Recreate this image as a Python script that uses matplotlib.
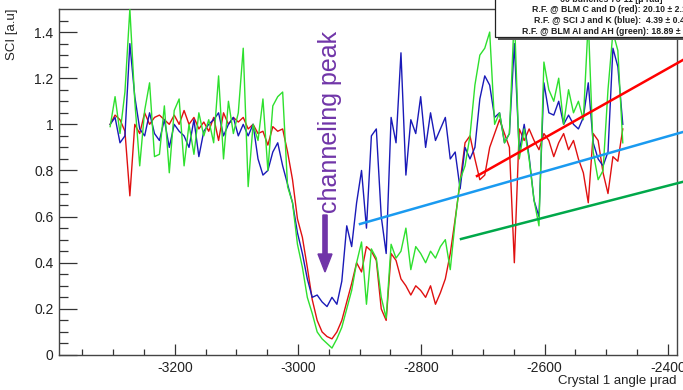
import numpy as np
import matplotlib
matplotlib.use("Agg")
import matplotlib.pyplot as plt
from matplotlib.lines import Line2D
from matplotlib.patches import Rectangle, FancyArrow

plt.rcParams['font.family'] = ['Liberation Sans', 'DejaVu Sans']
plt.rcParams['axes.unicode_minus'] = False

# ---- data (crystal angle scan, step 8 urad) ----
angle_start = -3305
angle_step = 8
red_vals = [1.0, 1.04, 1.02, 0.97, 0.69, 1.0, 0.96, 1.05, 1.0, 1.03,
            1.04, 1.02, 1.0, 1.04, 1.0, 1.06, 1.0, 1.03, 0.98, 1.01,
            0.97, 1.03, 0.93, 1.05, 1.0, 1.03, 1.01, 1.03, 0.98, 1.0,
            0.96, 0.97, 0.91, 0.99, 0.97, 0.98, 0.88, 0.76, 0.59, 0.51,
            0.38, 0.24, 0.15, 0.10, 0.08, 0.07, 0.10, 0.15, 0.23, 0.31,
            0.40, 0.36, 0.47, 0.45, 0.41, 0.20, 0.15, 0.44, 0.41, 0.33,
            0.30, 0.26, 0.30, 0.28, 0.25, 0.30, 0.22, 0.27, 0.33, 0.44,
            0.59, 0.75, 0.92, 0.95, 0.85, 0.76, 0.78, 0.90, 0.96, 1.02,
            0.96, 0.90, 0.40, 0.98, 0.93, 0.98, 0.93, 0.89, 0.96, 0.93,
            0.86, 0.92, 0.96, 0.89, 0.93, 0.85, 0.79, 0.66, 0.96, 0.93,
            0.79, 0.70, 0.86, 0.84, 0.98]
blue_vals = [1.0, 1.03, 0.92, 0.95, 1.35, 1.12, 0.98, 0.95, 1.05, 0.96,
             0.93, 1.02, 0.90, 1.0, 0.97, 0.95, 0.90, 1.02, 0.86, 0.97,
             1.0, 1.02, 1.05, 0.95, 1.0, 1.03, 0.95, 1.0, 0.95, 1.0,
             0.85, 0.78, 0.80, 0.88, 0.92, 0.82, 0.74, 0.66, 0.53, 0.44,
             0.33, 0.25, 0.26, 0.23, 0.21, 0.25, 0.22, 0.32, 0.56, 0.47,
             0.66, 0.80, 0.55, 0.95, 0.98, 0.60, 0.44, 1.03, 0.92, 1.31,
             0.78, 1.02, 0.96, 1.12, 0.90, 1.05, 0.93, 0.98, 1.03, 0.85,
             0.88, 0.72, 0.90, 0.85, 0.90, 1.11, 1.21, 1.17, 1.03, 1.05,
             0.92, 0.96, 1.35, 0.88, 1.0, 0.86, 0.67, 0.60, 1.18, 1.05,
             1.04, 1.10, 1.0, 1.04, 1.0, 0.98, 1.03, 1.18, 0.92, 0.85,
             0.82, 0.88, 1.33, 1.25, 1.0]
green_vals = [0.99, 1.12, 0.96, 1.14, 1.50, 1.10, 0.82, 1.06, 1.18, 0.86,
              0.87, 1.08, 0.79, 1.06, 1.11, 0.82, 1.0, 0.87, 1.05, 0.95,
              1.02, 0.92, 1.21, 0.85, 1.10, 0.96, 1.05, 1.33, 0.73, 1.0,
              0.93, 1.11, 0.80, 1.08, 1.12, 1.14, 0.73, 0.66, 0.48, 0.38,
              0.25, 0.18, 0.10, 0.07, 0.05, 0.03, 0.07, 0.12, 0.20, 0.28,
              0.40, 0.49, 0.22, 0.46, 0.42, 0.25, 0.16, 0.48, 0.42, 0.45,
              0.55, 0.37, 0.47, 0.44, 0.40, 0.45, 0.42, 0.47, 0.50, 0.37,
              0.58, 0.76, 0.82, 0.95, 1.17, 1.30, 1.33, 1.40, 1.0, 1.05,
              0.92, 0.96, 1.48, 0.85, 0.98, 0.85, 0.67, 0.56, 1.27, 1.15,
              1.10, 1.20, 1.0, 1.15, 1.05, 1.10, 1.02, 1.45, 0.88, 0.76,
              0.80, 1.15, 1.40, 1.32, 0.92]
angles = angle_start + angle_step * np.arange(len(red_vals))

xticks = [-3200, -3000, -2800, -2600, -2400]
yticks = [0, 0.2, 0.4, 0.6, 0.8, 1.0, 1.2, 1.4]
ytick_labels = ['0', '0.2', '0.4', '0.6', '0.8', '1', '1.2', '1.4']
legend_lines = ["60 bunches 76-11 [\u03bc rad]",
                "R.F. @ BLM C and D (red): 20.10 \u00b1 2.16",
                "R.F. @ SCI J and K (blue):  4.39 \u00b1 0.46",
                "R.F. @ BLM AI and AH (green): 18.89 \u00b1 3.12"]

W, H = 683, 390
fig = plt.figure(figsize=(W / 100, H / 100), dpi=100)
ax = fig.add_axes([59 / W, 1 - 355 / H, (677 - 59) / W, (355 - 9) / H])

ax.plot(angles, red_vals, color='#e01010', lw=1.0, zorder=2)
ax.plot(angles, blue_vals, color='#1a1ab8', lw=1.0, zorder=3)
ax.plot(angles, green_vals, color='#2ee02e', lw=1.0, zorder=4)

ax.set_xlim(-3388, -2385)
ax.set_ylim(0, 1.5)
ax.set_xticks(xticks)
ax.set_xticks(np.arange(-3350, -2385, 50), minor=True)
ax.set_yticks(yticks)
ax.set_yticklabels(ytick_labels)
ax.set_yticks(np.arange(0, 1.5, 0.05), minor=True)
ax.tick_params(axis='both', which='both', direction='in', colors='#333333',
               labelcolor='#222222', labelsize=10, width=0.9)
ax.tick_params(axis='y', which='major', length=13, pad=4)
ax.tick_params(axis='y', which='minor', length=6.5)
ax.tick_params(axis='x', which='major', length=8, pad=4)
ax.tick_params(axis='x', which='minor', length=4)
for s in ax.spines.values():
    s.set_color('#444444')
    s.set_linewidth(1.0)

ax.set_ylabel('SCI [a.u]', loc='top', fontsize=9.5, color='#222222')
ax.yaxis.set_label_coords(-0.066, 1.0)
ax.set_xlabel('Crystal 1 angle \u03bcrad', loc='right', fontsize=9.5, color='#222222')
ax.xaxis.set_label_coords(1.0, -0.058)

purple = '#7035a8'
fig.text(330 / W, 1 - 122 / H, 'channeling peak', rotation=90, fontsize=18,
         color=purple, ha='center', va='center')
fig.add_artist(FancyArrow(325 / W, 1 - 215 / H, 0, -(57 / H), width=4 / H * 0.6,
                          head_width=14 / W, head_length=18 / H,
                          length_includes_head=True, color=purple,
                          transform=fig.transFigure))

# annotation lines
for (x0, y0, x1, y1, c) in [(477, 176, 690, 56, '#ff0000'),
                            (360, 224, 690, 130, '#1a9af0'),
                            (461, 239, 690, 180, '#00a84a')]:
    fig.add_artist(Line2D([x0 / W, x1 / W], [1 - y0 / H, 1 - y1 / H],
                          color=c, lw=1.8, transform=fig.transFigure))

# stats box
fig.add_artist(Rectangle((498 / W, 1 - 40 / H), 200 / W, 50 / H,
                         facecolor='#555555', edgecolor='none',
                         transform=fig.transFigure, zorder=5))
fig.add_artist(Rectangle((495 / W, 1 - 37 / H), 200 / W, 50 / H,
                         facecolor='white', edgecolor='#222222', lw=0.9,
                         transform=fig.transFigure, zorder=6))
text_pos = [(560, 0), (532, 10), (534, 20.5), (522, 31)]
for (tx, ty), t in zip(text_pos, legend_lines):
    fig.text(tx / W, 1 - ty / H, t, fontsize=6.3, fontweight='bold',
             color='#222222', ha='left', va='center', zorder=7)

fig.savefig('out.png', dpi=100)
